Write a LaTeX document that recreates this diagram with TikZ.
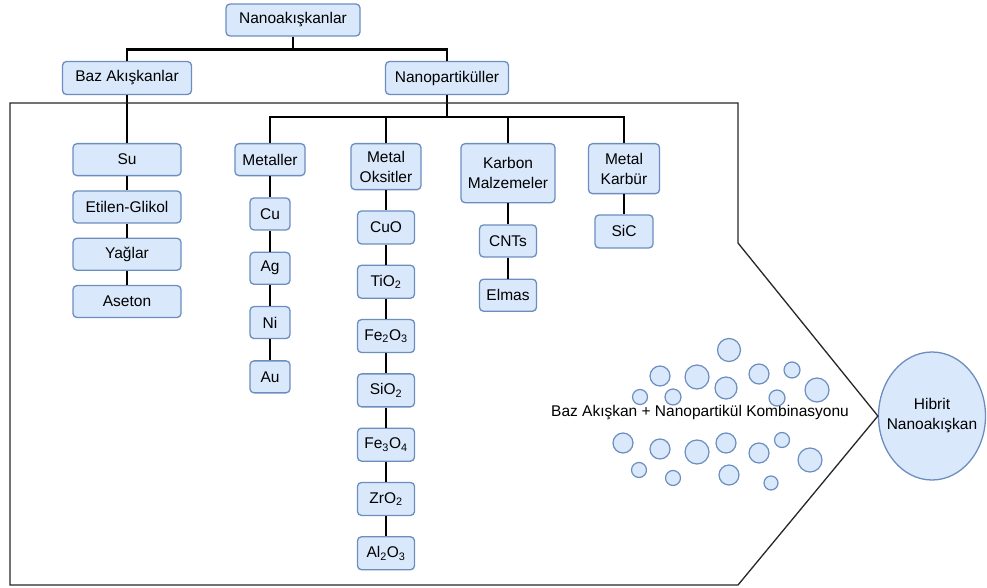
\documentclass[tikz,border=0pt]{standalone}
\usepackage{fontspec}
\setmainfont{Liberation Sans}
\usepackage{tikz}
\usetikzlibrary{positioning,shapes.geometric}
\definecolor{NanoFill}{HTML}{DAE8FC}
\definecolor{NanoLine}{HTML}{6C8EBF}

\begin{document}
\begin{tikzpicture}[
  x=1pt,y=-1pt,
  node distance=21pt,
  every node/.style={font=\fontsize{15.5}{20}\selectfont,align=center,inner sep=2pt},
  b/.style={draw=NanoLine,fill=NanoFill,line width=1.3pt,rounded corners=4pt,minimum height=32pt},
  cat/.style={b,anchor=north},
  link/.style={line width=2.6pt},
  bub/.style={draw=NanoLine,fill=NanoFill,line width=1.2pt},
  frame/.style={draw=black!85,line width=1.3pt}
]
  \useasboundingbox (0,0) rectangle (987,588);

  % upper levels
  \node[b,minimum width=134pt] (nak) at (293,20) {Nanoakışkanlar};
  \node[b,minimum width=129pt,minimum height=33pt] (baz) at (127,78) {Baz Akışkanlar};
  \node[b,minimum width=123pt,minimum height=33pt] (np) at (447,78) {Nanopartiküller};

  % base fluids
  \node[cat,minimum width=108pt] (su) at (127,143) {Su};
  \node[b,minimum width=108pt,below=14pt of su] (eg) {Etilen-Glikol};
  \node[b,minimum width=108pt,below=14pt of eg] (yag) {Yağlar};
  \node[b,minimum width=108pt,below=14pt of yag] (ase) {Aseton};

  % nanoparticle groups
  \node[cat,minimum width=70pt] (met) at (270,143) {Metaller};
  \node[cat,minimum width=70pt,minimum height=46pt] (mox) at (386,143) {Metal\\Oksitler};
  \node[cat,minimum width=94pt,minimum height=59pt] (kar) at (508,143) {Karbon\\Malzemeler};
  \node[cat,minimum width=71pt,minimum height=50pt] (mkb) at (624,143) {Metal\\Karbür};

  \node[b,minimum width=40pt,below=of met] (cu) {Cu};
  \node[b,minimum width=40pt,below=of cu] (ag) {Ag};
  \node[b,minimum width=40pt,below=of ag] (ni) {Ni};
  \node[b,minimum width=40pt,below=of ni] (au) {Au};

  \node[b,minimum width=57pt,minimum height=33pt,below=20pt of mox] (cuo) {CuO};
  \node[b,minimum width=57pt,minimum height=33pt,below=20pt of cuo] (tio) {TiO\textsubscript{2}};
  \node[b,minimum width=57pt,minimum height=33pt,below=20pt of tio] (feo) {Fe\textsubscript{2}O\textsubscript{3}};
  \node[b,minimum width=57pt,minimum height=33pt,below=20pt of feo] (sio) {SiO\textsubscript{2}};
  \node[b,minimum width=57pt,minimum height=33pt,below=20pt of sio] (fet) {Fe\textsubscript{3}O\textsubscript{4}};
  \node[b,minimum width=57pt,minimum height=33pt,below=20pt of fet] (zro) {ZrO\textsubscript{2}};
  \node[b,minimum width=57pt,minimum height=33pt,below=20pt of zro] (alo) {Al\textsubscript{2}O\textsubscript{3}};

  \node[b,minimum width=57pt,below=of kar] (cnt) {CNTs};
  \node[b,minimum width=57pt,below=of cnt] (elm) {Elmas};

  \node[b,minimum width=58pt,minimum height=33pt,below=20pt of mkb] (sic) {SiC};

  % result
  \node[ellipse,draw=NanoLine,fill=NanoFill,line width=1.3pt,inner xsep=-8pt,inner ysep=0pt,
        minimum width=107pt,minimum height=128pt] (hib) at (932,416) {Hibrit\\Nanoakışkan};
  \node (lbl) at (700,413) {Baz Akışkan + Nanopartikül Kombinasyonu};

  % tree links
  \draw[link] (nak.south) -- ++(0,13) coordinate (j0) -| (baz.north);
  \draw[link] (j0) -| (np.north);
  \draw[link] (np.south) -- ++(0,22) coordinate (j1);
  \foreach \c in {met,mox,kar,mkb} \draw[link] (j1) -| (\c.north);
  \draw[link] (baz) -- (su) -- (eg) -- (yag) -- (ase);
  \draw[link] (met) -- (cu) -- (ag) -- (ni) -- (au);
  \draw[link] (mox) -- (cuo) -- (tio) -- (feo) -- (sio) -- (fet) -- (zro) -- (alo);
  \draw[link] (kar) -- (cnt) -- (elm);
  \draw[link] (mkb) -- (sic);

  % outline pointing to the hybrid
  \draw[frame] (10,103) -- (738,103) -- (738,243) -- (hib.west) -- (738,585) -- (10,585) -- cycle;

  % particles
  \foreach \x/\y/\r in {729/350/11.5, 660/376/10, 697/377/12, 759/374/10, 792/370/8,
      640/397/7.5, 673/397/8, 726/388/11, 777/398/8, 817/390/12,
      623/443/10, 660/449/10, 697/452/12, 726/443/10, 759/453/10, 782/440/7.5, 810/460/12,
      639/470/7.5, 673/478/7.5, 729/475/10, 771/483/7}
    \draw[bub] (\x,\y) circle (\r);
\end{tikzpicture}
\end{document}
